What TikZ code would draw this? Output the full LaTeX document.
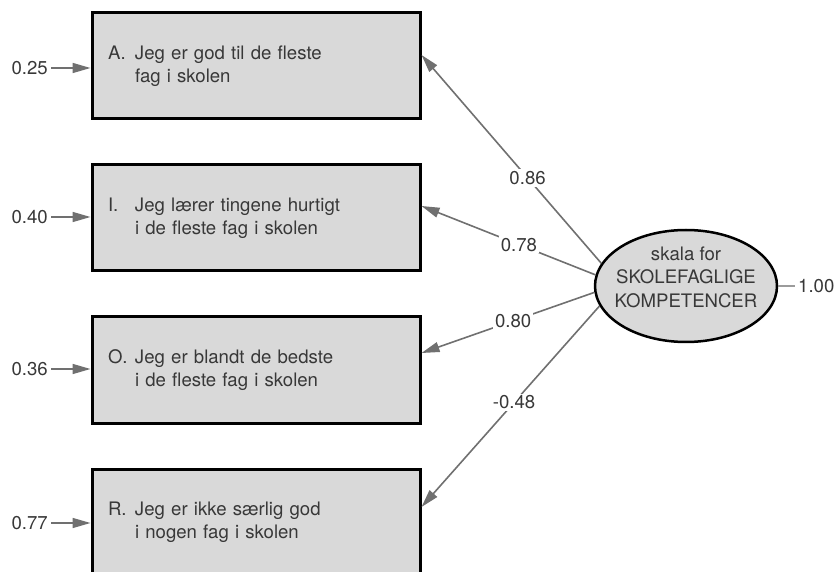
\documentclass[tikz,border=0pt]{standalone}
\usepackage{fontspec}
\setmainfont{TeX Gyre Heros}
\usetikzlibrary{arrows.meta,shapes.geometric}
\definecolor{boxgray}{HTML}{D9D9D9}
\definecolor{linegray}{HTML}{707070}
\definecolor{txtgray}{HTML}{383838}
\newcommand{\itemtext}[3]{\makebox[27pt][l]{#1}#2\\\hspace*{27pt}#3}
\tikzset{
  itembox/.style={rectangle, draw=black, line width=3pt, fill=boxgray,
    minimum width=328pt, minimum height=106pt, text width=296pt,
    inner xsep=16pt, align=left, text=txtgray},
  latent/.style={ellipse, draw=black, line width=2.5pt, fill=boxgray,
    minimum width=182pt, minimum height=112pt},
  load/.style={draw=linegray, line width=1.6pt, -{Triangle[length=18pt,width=10pt]}},
  loadlabel/.style={fill=white, inner sep=2pt, text=txtgray},
  errlabel/.style={text=txtgray, inner sep=3pt},
}
\begin{document}
\begin{tikzpicture}[x=1pt,y=-1pt,font=\fontsize{18.6}{23.5}\selectfont]
\useasboundingbox (0,0) rectangle (839,572);
% items
\node[itembox] (boxA) at (256,66){\itemtext{A.}{Jeg er god til de fleste}{fag i skolen}};
\node[itembox] (boxI) at (256,218){\itemtext{I.}{Jeg lærer tingene hurtigt}{i de fleste fag i skolen}};
\node[itembox] (boxO) at (256,370){\itemtext{O.}{Jeg er blandt de bedste}{i de fleste fag i skolen}};
\node[itembox] (boxR) at (256,522){\itemtext{R.}{Jeg er ikke særlig god}{i nogen fag i skolen}};
% error terms
\node[errlabel, anchor=east] (eA) at (51,68){0.25};
\node[errlabel, anchor=east] (eI) at (51,217){0.40};
\node[errlabel, anchor=east] (eO) at (51,369){0.36};
\node[errlabel, anchor=east] (eR) at (51,523){0.77};
\draw[load] (eA.east) -- (eA.east -| boxA.west);
\draw[load] (eI.east) -- (eI.east -| boxI.west);
\draw[load] (eO.east) -- (eO.east -| boxO.west);
\draw[load] (eR.east) -- (eR.east -| boxR.west);
% latent factor
\node[latent] (ell) at (686,286){};
\node[align=center, text=txtgray, inner sep=0pt] (elltext) at (686,277){skala for\\SKOLEFAGLIGE\\KOMPETENCER};
\node[errlabel, anchor=west] (var) at (795,286){1.00};
\draw[draw=linegray!70, line width=1.5pt] (ell.east) -- (var.west);
% loadings
\draw[load] (ell.165) -- node[loadlabel, pos=0.41]{0.86} ([yshift=11pt]boxA.east);
\draw[load] (ell.173) -- node[loadlabel, pos=0.44]{0.78} ([yshift=12pt]boxI.east);
\draw[load] (ell.184) -- node[loadlabel, pos=0.47]{0.80} ([yshift=17pt]boxO.east);
\draw[load] (ell.193) -- node[loadlabel, pos=0.48]{-0.48} ([yshift=15pt]boxR.east);
\end{tikzpicture}
\end{document}
